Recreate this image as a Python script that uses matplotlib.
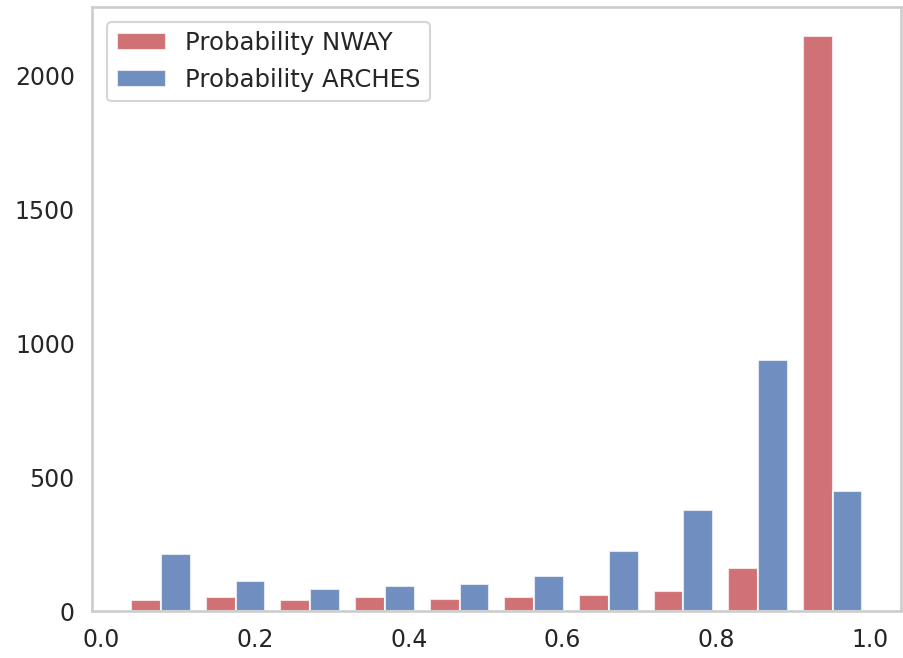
import numpy as np
import matplotlib
matplotlib.use("Agg")
import matplotlib.pyplot as plt
import seaborn as sns

# counts per probability bin
bin_edges = np.linspace(0.029, 1.0, 11)
nway_counts = [40, 51, 40, 51, 45, 51, 59, 76, 161, 2150]
arches_counts = [213, 113, 81, 94, 101, 131, 223, 377, 939, 450]
labels = ["Probability NWAY", "Probability ARCHES"]

sns.set_theme(style="whitegrid", context="talk")
sns.set_color_codes()

fig = plt.figure(figsize=(9.04, 6.58), dpi=100)
ax = fig.add_axes([0.102, 0.0714, 0.8943, 0.918])

centers = (bin_edges[:-1] + bin_edges[1:]) / 2
ax.hist([centers, centers], bins=bin_edges,
        weights=[nway_counts, arches_counts],
        color=["r", "b"], alpha=0.8, label=labels)

ax.grid(False)
ax.set_xlim(-0.012, 1.04)
ax.set_xticks([0.0, 0.2, 0.4, 0.6, 0.8, 1.0])
ax.set_yticks([0, 500, 1000, 1500, 2000])
ax.tick_params(labelsize=17)
ax.legend(loc="upper left", fontsize=17.6, borderaxespad=0.6)

fig.savefig("out.png", dpi=100)
